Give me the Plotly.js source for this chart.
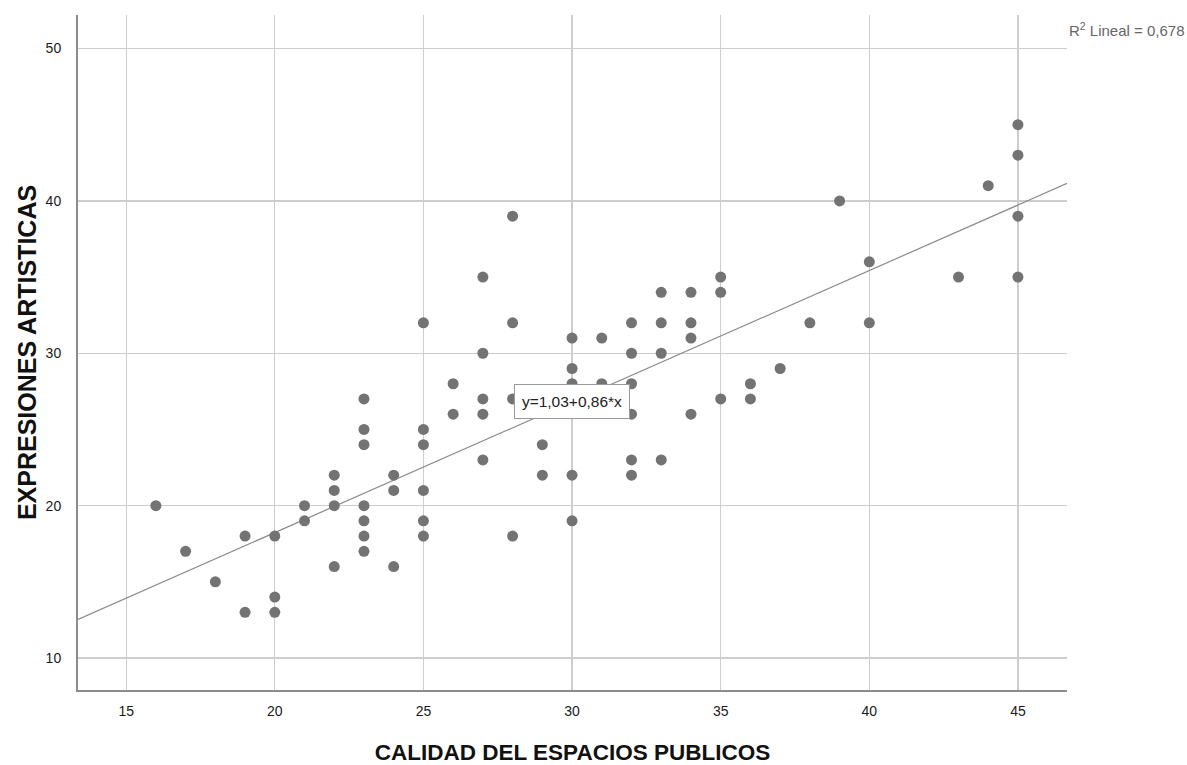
<!DOCTYPE html>
<html>
<head>
<meta charset="utf-8">
<script src="https://cdn.plot.ly/plotly-3.0.1.min.js"></script>
<style>html,body{margin:0;padding:0;background:#fff;}#chart{width:1187px;height:765px;}</style>
</head>
<body>
<div id="chart"></div>
<script>
// Data (x = CALIDAD DEL ESPACIOS PUBLICOS, y = EXPRESIONES ARTISTICAS)
const calidad = [16,17,18,19,19,20,20,20,21,21,22,22,22,22,23,23,23,23,23,23,23,24,24,24,25,25,25,25,25,25,26,26,27,27,27,27,27,28,28,28,28,29,29,30,30,30,30,30,31,31,32,32,32,32,32,32,33,33,33,33,34,34,34,34,35,35,35,36,36,37,38,39,40,40,43,44,45,45,45,45];
const expresiones = [20,17,15,18,13,18,14,13,20,19,22,21,20,16,27,25,24,20,19,18,17,22,21,16,32,25,24,21,19,18,28,26,35,30,27,26,23,39,32,27,18,24,22,31,29,28,22,19,31,28,32,30,28,26,23,22,34,32,30,23,34,32,31,26,35,34,27,28,27,29,32,40,36,32,35,41,45,43,39,35];
const intercept = 1.03;
const slope = 0.86;
const r2Text = "R<sup>2</sup> Lineal = 0,678";
const eqText = "y=1,03+0,86*x";
const xTicks = [15,20,25,30,35,40,45];
const yTicks = [10,20,30,40,50];
const xRange = [13.38, 46.65];
const yRange = [7.9, 52.2];

const fitX = xRange.slice();
const fitY = fitX.map(v => intercept + slope * v);

const traces = [
  {x: fitX, y: fitY, mode: 'lines', line: {color: '#8a8a8a', width: 1.2}, hoverinfo: 'skip', showlegend: false},
  {x: calidad, y: expresiones, mode: 'markers', marker: {color: '#737373', size: 11}, showlegend: false}
];

const font = "Liberation Sans, Arial, sans-serif";
const layout = {
  width: 1187, height: 765,
  margin: {l: 78, r: 120, t: 15, b: 75},
  paper_bgcolor: '#fff', plot_bgcolor: '#fff',
  font: {family: font, color: '#222'},
  xaxis: {
    range: xRange, tickvals: xTicks, ticktext: xTicks.map(String),
    showgrid: true, gridcolor: '#cdcdcd', gridwidth: 1.3,
    zeroline: false, showline: true, linecolor: '#8c8c8c', linewidth: 2,
    ticks: '', ticklabelstandoff: 7, tickfont: {size: 14, color: '#1a1a1a', family: font},
    title: {text: 'CALIDAD DEL ESPACIOS PUBLICOS', font: {size: 22.5, color: '#111', family: font, weight: 'bold'}, standoff: 28},
    automargin: false
  },
  yaxis: {
    range: yRange, tickvals: yTicks, ticktext: yTicks.map(String),
    showgrid: true, gridcolor: '#cdcdcd', gridwidth: 1.3,
    zeroline: false, showline: true, linecolor: '#8c8c8c', linewidth: 2,
    ticks: '', ticklabelstandoff: 12, tickfont: {size: 14, color: '#1a1a1a', family: font},
    title: {text: 'EXPRESIONES ARTISTICAS', font: {size: 25, color: '#111', family: font, weight: 'bold'}, standoff: 2},
    automargin: false
  },
  annotations: [
    {x: 30, y: 26.84, xref: 'x', yref: 'y', text: eqText, showarrow: false,
     bgcolor: '#fff', bordercolor: '#999', borderwidth: 1, borderpad: 2,
     width: 110, height: 29,
     font: {size: 15.5, color: '#222', family: font}},
    {x: 1, y: 1, xref: 'paper', yref: 'paper', xanchor: 'left', yanchor: 'middle', xshift: 0, yshift: -14,
     text: r2Text, showarrow: false, font: {size: 15, color: '#666', family: font}}
  ]
};

Plotly.newPlot('chart', traces, layout, {displayModeBar: false, staticPlot: true});
</script>
</body>
</html>
